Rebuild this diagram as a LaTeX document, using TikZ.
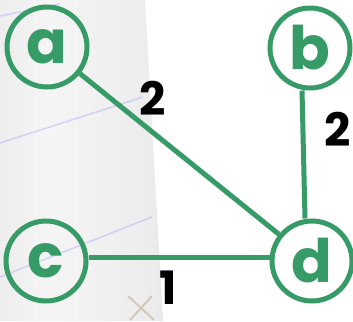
\documentclass[tikz,border=0pt]{standalone}
\usepackage{fontspec}
\setmainfont{Poppins}
\definecolor{edgegreen}{RGB}{54,155,102}
\definecolor{paperA}{RGB}{228,224,224}
\definecolor{paperB}{RGB}{245,245,245}
\definecolor{paperC}{RGB}{236,236,236}
\definecolor{paperD}{RGB}{198,198,198}
\pgfdeclarehorizontalshading{paper}{100bp}{color(0bp)=(paperA); color(40bp)=(paperB); color(72bp)=(paperC); color(100bp)=(paperD)}
\tikzset{
  vertex/.style={circle, draw=edgegreen, line width=5pt, minimum size=80pt, inner sep=0pt,
    text=edgegreen, font=\fontsize{60}{60}\selectfont\bfseries},
  link/.style={draw=edgegreen, line width=5pt},
  weight/.style={text=black, font=\fontsize{46}{46}\selectfont\bfseries, inner sep=0pt},
  ruling/.style={draw=blue!45, line width=1.6pt, opacity=0.3}
}
\begin{document}
\begin{tikzpicture}[x=1pt, y=-1pt]
  \useasboundingbox (0,0) rectangle (353,321);
  % paper sheet in the background
  \fill[white] (0,0) rectangle (353,321);
  \shade[shading=paper] (0,0) -- (145,0) -- (163,321) -- (0,321) -- cycle;
  \draw[ruling] (0,16) -- (60,4);
  \draw[ruling] (0,143) -- (143,97);
  \draw[ruling] (0,277) -- (152,217);
  \draw[brown!70!black, line width=2pt, opacity=0.25] (128,296) -- (154,320) (152,296) -- (130,320);

  % vertices
  \node[vertex] (a) at (47,47) {a};
  \node[vertex] (b) at (310,48) {b};
  \node[vertex] (c) at (46,261) {c};
  \node[vertex] (d) at (312,261) {d};

  % weighted edges
  \draw[link] (a) -- (d);
  \draw[link] ([xshift=-8pt]b.south) -- ([xshift=-7pt]d.north);
  \draw[link] ([yshift=4pt]c.east) -- ([yshift=4pt]d.west);

  \node[weight] (wad) at (153,98) {2};
  \node[weight] (wbd) at (338,129) {2};
  \node[weight] (wcd) at (168,288) {1};
\end{tikzpicture}
\end{document}
